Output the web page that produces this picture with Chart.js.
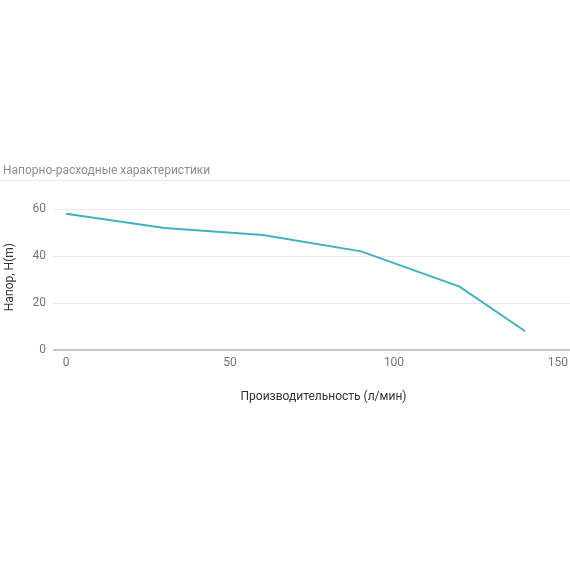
<!DOCTYPE html>
<html>
<head>
<meta charset="utf-8">
<script src="https://cdn.jsdelivr.net/npm/chart.js@4"></script>
<style>
    html, body { margin: 0; padding: 0; background: #fff; overflow: hidden; }
    canvas { display: block; }
</style>
</head>
<body>
<canvas id="chart-pump" width="594" height="570"></canvas>
<script>
// Pump curve: flow (l/min) vs head (m)
const flowValues = [0, 30, 60, 90, 120, 140];
const headValues = [58, 52, 49, 42, 27, 8];
const xTickValues = [0, 50, 100, 150];
const yTickValues = [0, 20, 40, 60];

const chartTitle = 'Напорно-расходные характеристики';
const xTitle = 'Производительность (л/мин)';
const yTitle = 'Напор, H(m)';

const FONT = 'Roboto';

// Thin rule under the title, full width
const titleRulePlugin = {
    id: 'titleRule',
    afterDraw(chart) {
        const t = chart.titleBlock;
        if (!t) return;
        const ctx = chart.ctx;
        const y = Math.round(t.top + 16) + 0.5;
        ctx.save();
        ctx.strokeStyle = '#ececec';
        ctx.lineWidth = 1;
        ctx.beginPath();
        ctx.moveTo(0, y);
        ctx.lineTo(chart.width, y);
        ctx.stroke();
        ctx.restore();
    }
};

new Chart(document.getElementById('chart-pump'), {
    type: 'line',
    data: {
        datasets: [{
            data: flowValues.map((x, i) => ({ x, y: headValues[i] })),
            borderColor: '#3fb1c5',
            borderWidth: 2,
            pointRadius: 0,
            tension: 0,
            fill: false
        }]
    },
    options: {
        responsive: false,
        animation: false,
        devicePixelRatio: 1,
        layout: {
            padding: { top: 164, left: 3, right: 0, bottom: 160 }
        },
        scales: {
            x: {
                type: 'linear',
                min: -4,
                max: 161,
                afterBuildTicks(scale) {
                    scale.ticks = xTickValues.map(v => ({ value: v }));
                },
                afterFit(scale) {
                    scale.height = 60;
                },
                grid: { display: false, drawTicks: false },
                border: { display: false },
                ticks: {
                    padding: 6,
                    color: '#757575',
                    font: { family: FONT, size: 12 }
                },
                title: {
                    display: true,
                    text: xTitle,
                    color: '#333',
                    font: { family: FONT, size: 12 },
                    padding: { top: 0, bottom: 6 }
                }
            },
            y: {
                min: 0,
                max: 62,
                afterBuildTicks(scale) {
                    scale.ticks = yTickValues.map(v => ({ value: v }));
                },
                afterFit(scale) {
                    scale.width = 50;
                },
                grid: {
                    drawTicks: false,
                    color: ctx => ctx.tick && ctx.tick.value === 0 ? '#c4c4c4' : '#e8e8e8',
                    lineWidth: ctx => ctx.tick && ctx.tick.value === 0 ? 2 : 1
                },
                border: { display: false },
                ticks: {
                    padding: 7,
                    color: '#757575',
                    font: { family: FONT, size: 12 }
                },
                title: {
                    display: true,
                    text: yTitle,
                    color: '#333',
                    font: { family: FONT, size: 12 },
                    padding: { top: 0, bottom: 0 }
                }
            }
        },
        plugins: {
            legend: { display: false },
            tooltip: { enabled: false },
            title: {
                display: true,
                text: chartTitle,
                align: 'start',
                color: '#8f8f8f',
                font: { family: FONT, size: 12, weight: 'normal' },
                padding: { top: 0, bottom: 26 }
            }
        }
    },
    plugins: [titleRulePlugin]
});
</script>
</body>
</html>
